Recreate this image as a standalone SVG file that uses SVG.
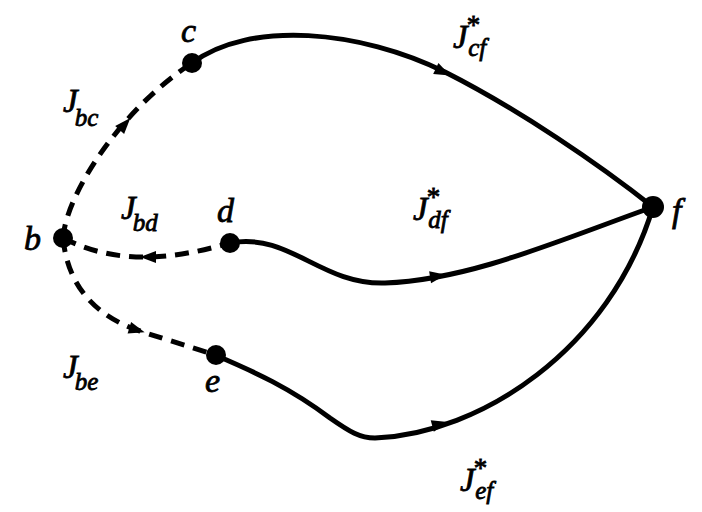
<svg xmlns="http://www.w3.org/2000/svg" width="702" height="512" viewBox="0 0 702 512">
<style>
.edge{fill:none;stroke:#000;stroke-width:5;stroke-linecap:round;stroke-linejoin:round}
.dash{stroke-dasharray:14 9;stroke-linecap:butt}
.dot{fill:#000}
.lbl{font-family:"Liberation Serif","Times New Roman",serif;font-style:italic;font-size:34px;fill:#000;stroke:#000;stroke-width:0.8}
.J{font-family:"Liberation Serif","Times New Roman",serif;font-style:italic;font-size:33px;fill:#000;stroke:#000;stroke-width:0.8}
.sub{font-size:25px}
.star{font-style:normal;font-size:27px}
</style>
<defs>
<path id="arr" d="M-8,-6 L8,0 L-8,6 Z" fill="#000"/>
</defs>
<g id="connectors">
<path class="edge dash" d="M63,238 C66,195 120,110 192,63"/>
<path class="edge dash" d="M63,238 C90,252 120,258 150,257 C180,256 205,250 230,243"/>
<path class="edge dash" d="M63,238 C68,290 100,318 140,331 C170,341 195,348 215,355"/>
<path class="edge" d="M192,63 C250,20 360,30 445,72 C520,110 600,165 653,207"/>
<path class="edge" d="M230,243 C290,232 320,285 385,283 C470,280 560,240 653,207"/>
<path class="edge" d="M215,355 C255,372 290,388 330,418 C350,432 360,438 375,438 C480,434 610,350 653,207"/>
<use href="#arr" transform="translate(125,124) rotate(-48)"/>
<use href="#arr" transform="translate(148,257) rotate(180)"/>
<use href="#arr" transform="translate(137,330) rotate(17)"/>
<use href="#arr" transform="translate(443,72) rotate(26)"/>
<use href="#arr" transform="translate(438,276) rotate(-9)"/>
<use href="#arr" transform="translate(440,424) rotate(-15)"/>
</g>
<g id="node-b"><circle class="dot" cx="63" cy="238" r="10"/><text class="lbl" x="24" y="250">b</text></g>
<g id="node-c"><circle class="dot" cx="192" cy="63" r="10"/><text class="lbl" x="181" y="42">c</text></g>
<g id="node-d"><circle class="dot" cx="230" cy="243" r="10"/><text class="lbl" x="217" y="222">d</text></g>
<g id="node-e"><circle class="dot" cx="216" cy="355" r="10"/><text class="lbl" x="205" y="392">e</text></g>
<g id="node-f"><circle class="dot" cx="653" cy="207" r="11"/><text class="lbl" x="672" y="222">f</text></g>
<g id="labels">
<text class="J" x="63" y="112">J<tspan class="sub" dx="-3" dy="14">bc</tspan></text>
<text class="J" x="121" y="219">J<tspan class="sub" dx="-3" dy="12">bd</tspan></text>
<text class="J" x="63" y="378">J<tspan class="sub" dx="-3" dy="12">be</tspan></text>
<text class="J" x="453" y="48">J<tspan class="star" dx="-1" dy="-14">*</tspan><tspan class="sub" dx="-12" dy="22">cf</tspan></text>
<text class="J" x="413" y="220">J<tspan class="star" dx="-1" dy="-14">*</tspan><tspan class="sub" dx="-12" dy="22">df</tspan></text>
<text class="J" x="460" y="491">J<tspan class="star" dx="-1" dy="-14">*</tspan><tspan class="sub" dx="-12" dy="22">ef</tspan></text>
</g>
</svg>
